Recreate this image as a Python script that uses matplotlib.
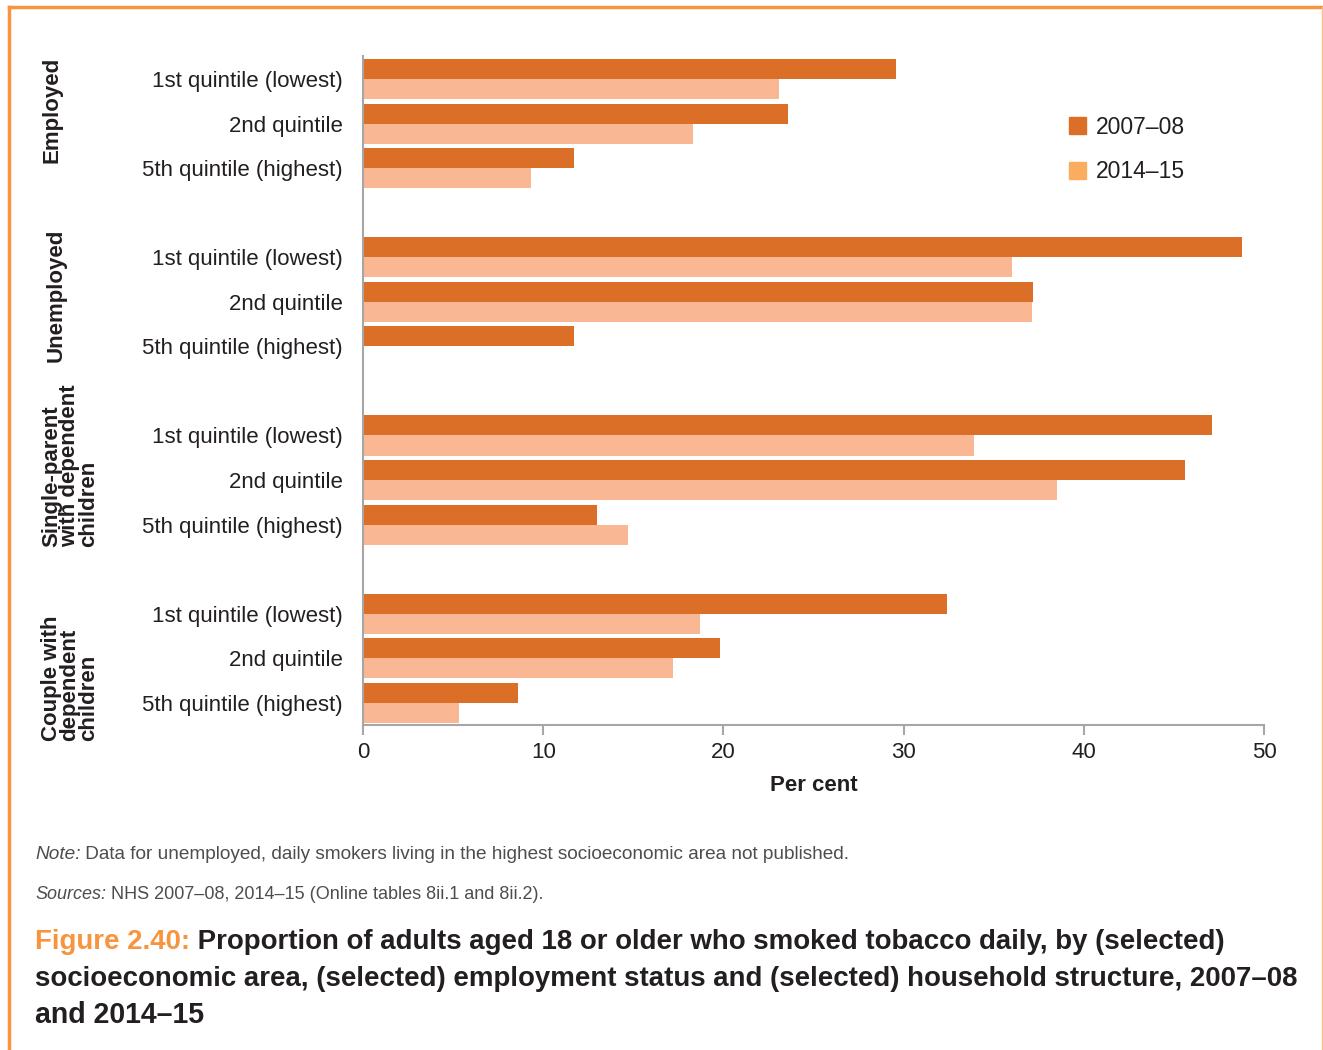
import matplotlib.pyplot as plt
import matplotlib.lines as mlines
import matplotlib.patches as mpatches
import numpy as np

plt.rcParams['font.family'] = ['Liberation Sans', 'DejaVu Sans']

# data (per cent)
groups = ['Employed', 'Unemployed', 'Single-parent\nwith dependent\nchildren', 'Couple with\ndependent\nchildren']
quintiles = ['1st quintile (lowest)', '2nd quintile', '5th quintile (highest)']
y2007 = [29.6, 23.6, 11.7,
         48.8, 37.2, 11.7,
         47.1, 45.6, 13.0,
         32.4, 19.8, 8.6]
y2014 = [23.1, 18.3, 9.3,
         36.0, 37.1, np.nan,
         33.9, 38.5, 14.7,
         18.7, 17.2, 5.3]

dark = '#DC6F27'
light = '#F9B793'
light_leg = '#FAAD5E'
frame = '#F7943D'
grey = '#A6A6A6'
txt = '#231F20'

fig = plt.figure(figsize=(13.23, 10.5), dpi=100)
ax = fig.add_axes([363 / 1323, 1 - 725 / 1050, (1264 - 363) / 1323, (725 - 56) / 1050])

# slot positions: 3 rows per group, one empty row between groups
pos = []
for g in range(len(groups)):
    for q in range(3):
        pos.append(g * 4 + q)
pos = np.array(pos, dtype=float)

h = 0.45
ax.barh(pos - h / 2, y2007, height=h, color=dark, label='2007–08')
ax.barh(pos + h / 2, np.nan_to_num(y2014), height=h, color=light, label='2014–15')

ax.set_ylim(14.5, -0.52)
ax.set_xlim(0, 50)
ax.set_yticks(pos)
ax.set_yticklabels(quintiles * 4, fontsize=16, color=txt)
ax.tick_params(axis='y', length=0, pad=14.5)
ax.set_xticks(range(0, 51, 10))
ax.tick_params(axis='x', length=7, width=1.5, color=grey, labelsize=16, labelcolor=txt, pad=5)
for s in ['top', 'right']:
    ax.spines[s].set_visible(False)
for s in ['left', 'bottom']:
    ax.spines[s].set_color(grey)
    ax.spines[s].set_linewidth(1.5)
ax.set_xlabel('Per cent', fontsize=16, fontweight='bold', color=txt, labelpad=9)

# legend
handles = [mpatches.Patch(color=dark, label='2007–08'),
           mpatches.Patch(color=light_leg, label='2014–15')]
fig.legend(handles=handles, loc='upper left', bbox_to_anchor=(1048 / 1323, 1 - 95 / 1050),
           frameon=False, fontsize=16.5, handlelength=0.75, handleheight=0.75,
           handletextpad=0.45, labelspacing=0.95, labelcolor=txt)

# group labels
group_y = [110, 295, 466, 678]
group_x = [52, 56, 70, 70]
for lab, gy, gx in zip(groups, group_y, group_x):
    fig.text(gx / 1323, 1 - gy / 1050, lab, rotation=90, ha='center', va='center',
             fontsize=16, fontweight='bold', color=txt, multialignment='left',
             linespacing=0.85)

# frame lines
fig.add_artist(mlines.Line2D([9 / 1323, 1322 / 1323], [1 - 7 / 1050, 1 - 7 / 1050],
                             transform=fig.transFigure, color=frame, lw=2.5))
fig.add_artist(mlines.Line2D([9 / 1323, 9 / 1323], [0, 1 - 7 / 1050],
                             transform=fig.transFigure, color=frame, lw=2.5))
fig.add_artist(mlines.Line2D([1321.5 / 1323, 1321.5 / 1323], [0, 1 - 7 / 1050],
                             transform=fig.transFigure, color='#FBC08C', lw=1))

renderer = fig.canvas.get_renderer()


def runs(x, y, parts, width, **kw):
    # draw consecutive text pieces on one line, sized so the line spans `width` px
    probe = fig.text(0, 0, ''.join(s for s, _ in parts), **kw)
    w = probe.get_window_extent(renderer=renderer).width
    size = kw.pop('fontsize') * width / w
    probe.remove()
    for s, style in parts:
        t = fig.text(x / 1323, 1 - y / 1050, s, va='baseline', ha='left', fontsize=size, **kw, **style)
        x = t.get_window_extent(renderer=renderer).x1


ncol = '#4D4D4F'
runs(35, 859, [('Note:', {'style': 'italic'}),
               (' Data for unemployed, daily smokers living in the highest socioeconomic area not published.', {})],
     827, fontsize=14, color=ncol)
runs(35, 899, [('Sources:', {'style': 'italic'}),
               (' NHS 2007–08, 2014–15 (Online tables 8ii.1 and 8ii.2).', {})],
     511, fontsize=14, color=ncol)

runs(35, 949, [('Figure 2.40:', {'color': frame}),
               (' Proportion of adults aged 18 or older who smoked tobacco daily, by (selected)', {'color': txt})],
     1189, fontsize=20, fontweight='bold')
runs(35, 986, [('socioeconomic area, (selected) employment status and (selected) household structure, 2007–08',
                {'color': txt})], 1262, fontsize=20, fontweight='bold')
runs(35, 1023, [('and 2014–15', {'color': txt})], 170, fontsize=20, fontweight='bold')

fig.savefig('out.png', dpi=100)
